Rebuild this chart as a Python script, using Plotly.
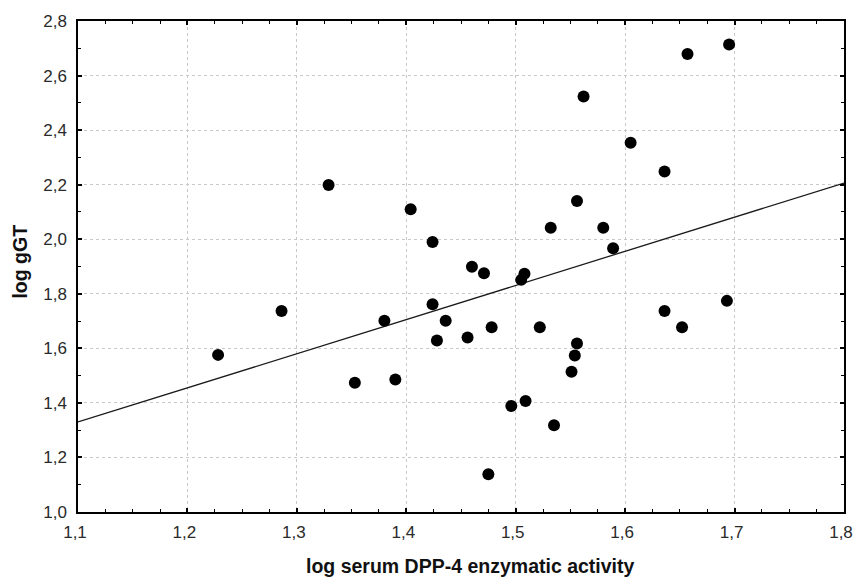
import plotly.graph_objects as go

# Data
dpp4 = [1.228, 1.286, 1.329, 1.353, 1.380, 1.390, 1.404, 1.424, 1.424, 1.428,
        1.436, 1.456, 1.460, 1.471, 1.475, 1.478, 1.496, 1.505, 1.508, 1.509,
        1.522, 1.532, 1.535, 1.551, 1.554, 1.556, 1.556, 1.562, 1.580, 1.589,
        1.605, 1.636, 1.636, 1.652, 1.657, 1.693, 1.695]
ggt = [1.576, 1.737, 2.199, 1.474, 1.701, 1.486, 2.110, 1.990, 1.762, 1.629,
       1.701, 1.640, 1.899, 1.875, 1.138, 1.677, 1.389, 1.851, 1.873, 1.407,
       1.677, 2.042, 1.318, 1.514, 1.574, 1.618, 2.140, 2.523, 2.042, 1.967,
       2.354, 2.248, 1.737, 1.677, 2.679, 1.774, 2.714]

fit_x = [1.1, 1.8]
fit_y = [1.330, 2.206]

x_ticks = [1.1, 1.2, 1.3, 1.4, 1.5, 1.6, 1.7, 1.8]
x_ticktext = ["1,1", "1,2", "1,3", "1,4", "1,5", "1,6", "1,7", "1,8"]
y_ticks = [1.0, 1.2, 1.4, 1.6, 1.8, 2.0, 2.2, 2.4, 2.6, 2.8]
y_ticktext = ["1,0", "1,2", "1,4", "1,6", "1,8", "2,0", "2,2", "2,4", "2,6", "2,8"]

x_title = "log serum DPP-4 enzymatic activity"
y_title = "log gGT"

fig = go.Figure()
fig.add_trace(go.Scatter(x=fit_x, y=fit_y, mode="lines",
                         line=dict(color="#1a1a1a", width=1.3),
                         showlegend=False, hoverinfo="skip"))
fig.add_trace(go.Scatter(x=dpp4, y=ggt, mode="markers",
                         marker=dict(color="black", size=12, line=dict(width=0)),
                         showlegend=False))

tickfont = dict(family="Liberation Sans, Arial, sans-serif", size=17, color="#2a2a2a")
titlefont = dict(family="Liberation Sans, Arial, sans-serif", size=19.5,
                 color="#111111", weight="bold")

common = dict(showgrid=True, gridcolor="#c8c8c8", griddash="dot", gridwidth=1,
              zeroline=False, showline=True, linecolor="black", linewidth=1.5,
              mirror="ticks", ticks="inside", ticklen=4, tickcolor="black",
              tickwidth=1.5, tickfont=tickfont, automargin=False,
              ticklabeloverflow="allow")

fig.update_layout(
    width=854, height=578,
    margin=dict(l=78, r=10, t=21, b=66, autoexpand=False),
    paper_bgcolor="white", plot_bgcolor="white",
    xaxis=dict(range=[1.1, 1.8], tickvals=x_ticks, ticktext=x_ticktext,
               ticklabelstandoff=4, ticklabelshift=-3,
               minor=dict(dtick=0.025, ticks="inside", ticklen=3, tickcolor="black",
                          tickwidth=1, showgrid=False),
               **common),
    yaxis=dict(range=[1.0, 2.8], tickvals=y_ticks, ticktext=y_ticktext,
               ticklabelstandoff=6,
               minor=dict(dtick=0.1, ticks="inside", ticklen=3, tickcolor="black",
                          tickwidth=1, showgrid=False),
               **common),
    annotations=[
        dict(text=x_title, xref="paper", yref="paper", x=0.512, y=0,
             yshift=-54, xanchor="center", yanchor="middle", showarrow=False,
             font=titlefont),
        dict(text=y_title, xref="paper", yref="paper", x=0, y=0.51,
             xshift=-58, xanchor="center", yanchor="middle", showarrow=False,
             textangle=-90, font=titlefont),
    ],
)

fig.write_html("out.html")
